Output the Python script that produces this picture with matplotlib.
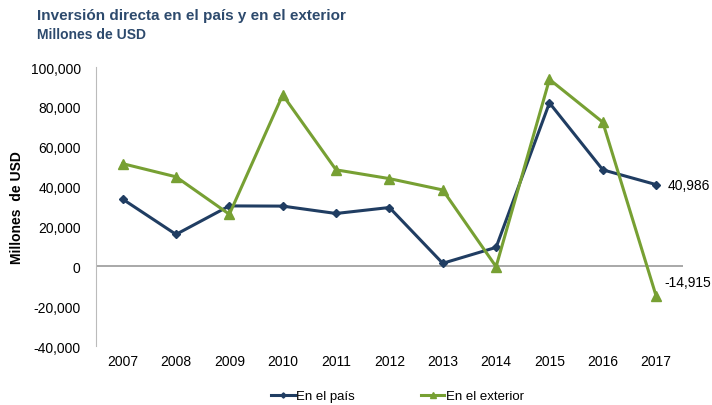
import numpy as np
import matplotlib.pyplot as plt

plt.rcParams['font.family'] = ['Liberation Sans', 'DejaVu Sans']

years = ['2007', '2008', '2009', '2010', '2011', '2012', '2013', '2014', '2015', '2016', '2017']
en_pais = [33700, 16000, 30300, 30200, 26500, 29500, 1500, 9500, 82000, 48400, 40986]
en_exterior = [51500, 44900, 26100, 86000, 48400, 44000, 38300, -200, 93800, 72300, -14915]

blue = '#203d62'
green = '#77a033'
title_color = '#2d4a6d'

fig = plt.figure(figsize=(7.12, 4.06), dpi=100)
ax = fig.add_axes([0.1348, 0.1453, 0.8242, 0.6872])

x = np.arange(len(years))
ax.plot(x, en_pais, color=blue, lw=2.2, marker='D', ms=3.8, label='En el país')
ax.plot(x, en_exterior, color=green, lw=2.2, marker='^', ms=6.5, label='En el exterior')

ax.set_xlim(-0.5, len(years) - 0.5)
ax.set_ylim(-40000, 100000)
ax.set_yticks(np.arange(-40000, 100001, 20000))
ax.set_yticklabels([f'{v:,}' for v in range(-40000, 100001, 20000)])
ax.set_xticks(x)
ax.set_xticklabels(years)
ax.axhline(0, color='#999999', lw=1.2, zorder=0)

for s in ['top', 'right', 'bottom']:
    ax.spines[s].set_visible(False)
ax.spines['left'].set_color('#bbbbbb')
ax.tick_params(axis='x', length=0, labelsize=10, pad=6)
ax.tick_params(axis='y', length=0, labelsize=10, pad=11)

ax.set_ylabel('Millones  de USD', fontsize=10, fontweight='bold', labelpad=5)

ax.annotate(f'{en_pais[-1]:,}', (x[-1], en_pais[-1]), xytext=(8, 0),
            textcoords='offset points', va='center', fontsize=10)
ax.annotate(f'{en_exterior[-1]:,}', (x[-1], en_exterior[-1]), xytext=(6, 10),
            textcoords='offset points', va='center', fontsize=10)

fig.text(0.052, 0.96, 'Inversión directa en el país y en el exterior', fontsize=11,
         fontweight='bold', color=title_color, va='center')
fig.text(0.052, 0.913, 'Millones de USD', fontsize=10, fontweight='bold',
         color=title_color, va='center')

fig.legend(loc='center', bbox_to_anchor=(0.558, 0.022), ncol=2, frameon=False,
           fontsize=9.5, handlelength=1.8, columnspacing=5, handletextpad=0.1,
           markerscale=0.7)

fig.savefig('out.png', dpi=100)
